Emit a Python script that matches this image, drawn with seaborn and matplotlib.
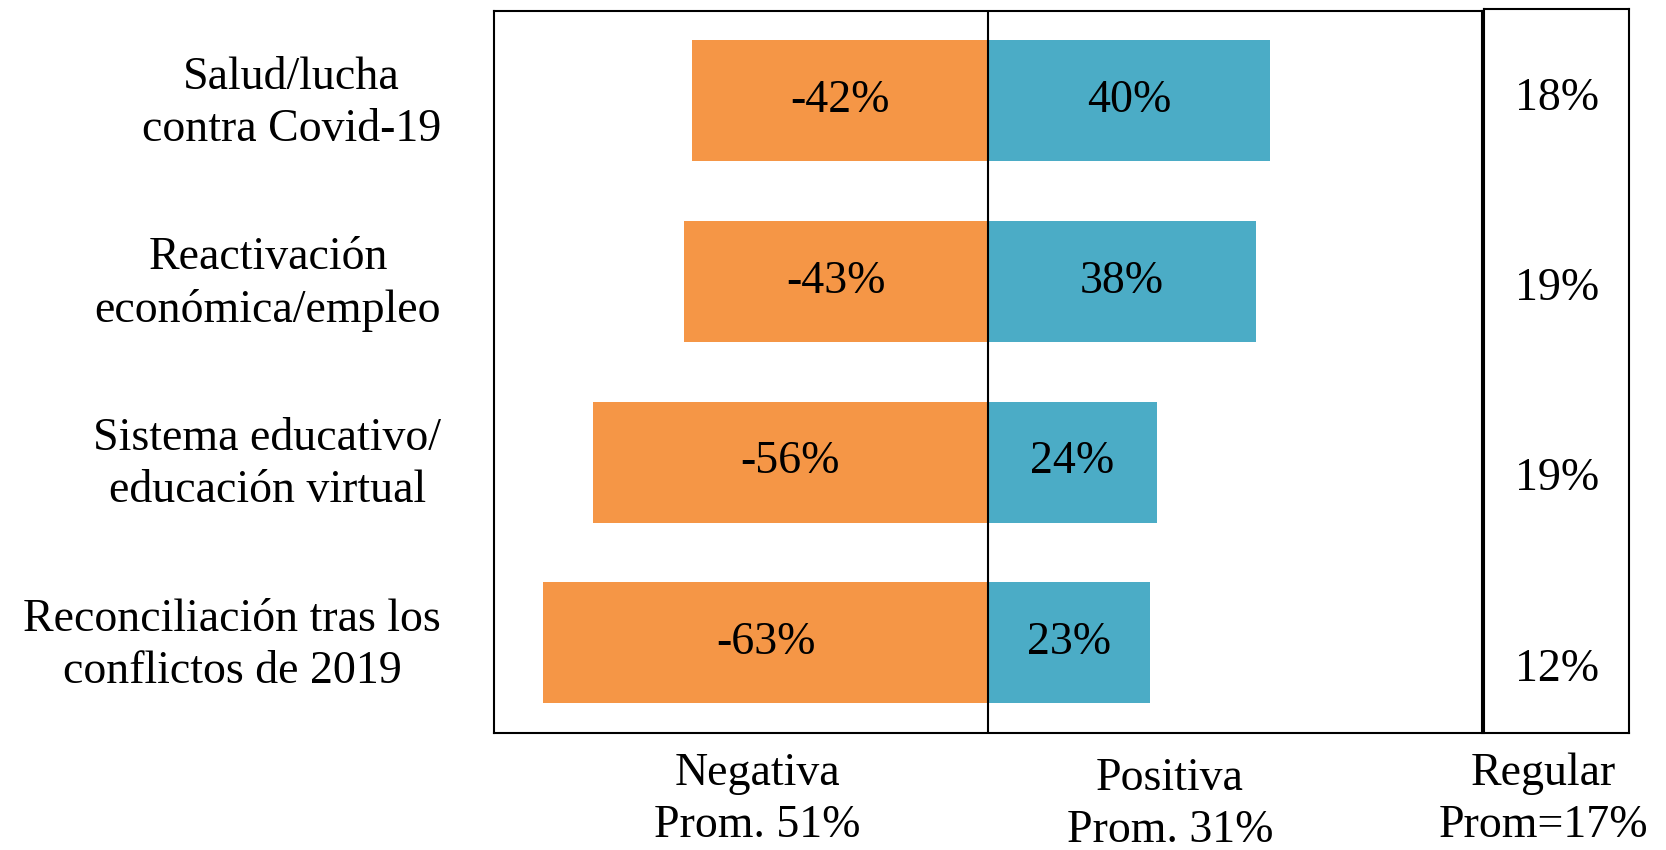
import numpy as np
import matplotlib
matplotlib.use("Agg")
import matplotlib.pyplot as plt
import matplotlib.transforms as mtransforms
import seaborn as sns
import pandas as pd

categories = ["Salud/lucha\ncontra Covid-19",
              "Reactivación\neconómica/empleo",
              "Sistema educativo/\neducación virtual",
              "Reconciliación tras los\nconflictos de 2019"]
negativa = [-42, -43, -56, -63]
positiva = [40, 38, 24, 23]
regular = [18, 19, 19, 12]

col_neg = "#F59646"
col_pos = "#4BACC6"

sns.set_theme(style="white")
plt.rcParams['font.family'] = ['Liberation Serif', 'DejaVu Serif']
plt.rcParams['text.color'] = 'black'
fs = 33

df = pd.DataFrame({"cat": categories, "neg": negativa, "pos": positiva, "reg": regular})

fig = plt.figure(figsize=(16.66, 8.5), dpi=100)
ax = fig.add_axes([0.2965, 0.1376, 0.593, 0.8499])
ax2 = fig.add_axes([0.891, 0.1376, 0.087, 0.8524])

sns.barplot(data=df, x="neg", y="cat", color=col_neg, width=0.67, linewidth=0,
            saturation=1, orient="h", ax=ax)
sns.barplot(data=df, x="pos", y="cat", color=col_pos, width=0.67, linewidth=0,
            saturation=1, orient="h", ax=ax)

ax.bar_label(ax.containers[0], labels=[f"{v}%" for v in negativa],
             label_type="center", fontsize=fs, color="black")
ax.bar_label(ax.containers[1], labels=[f"{v}%" for v in positiva],
             label_type="center", fontsize=fs, color="black")

ax.axvline(0, color="black", lw=1.5)
ax.set_xlim(-70, 70)
ax.set_ylim(3.5, -0.5)
ax.set_xlabel("")
ax.set_ylabel("")
ax.set_xticks([])
ax.tick_params(axis="y", length=0, pad=38, labelsize=fs, labelcolor="black")
shift = mtransforms.ScaledTranslation(0, 5 / 72, fig.dpi_scale_trans)
for lbl in ax.get_yticklabels():
    lbl.set_multialignment("center")
    lbl.set_linespacing(1.3)
    lbl.set_transform(lbl.get_transform() + shift)
for sp in ax.spines.values():
    sp.set_visible(True)
    sp.set_color("black")
    sp.set_linewidth(1.5)

# regular column (text rows spread a bit wider than the bars)
ax2.set_xlim(0, 1)
ax2.set_ylim(0, 1)
ypos = np.linspace(0.875, 0.088, len(regular))
for y, v in zip(ypos, regular):
    ax2.text(0.5, y, f"{v}%", ha="center", va="center", fontsize=fs)
ax2.set_xticks([])
ax2.set_yticks([])
for sp in ax2.spines.values():
    sp.set_visible(True)
    sp.set_color("black")
    sp.set_linewidth(1.5)

# bottom headings
fig.text(713 * 1.0625 / 1666, 1 - 800 / 850, "Negativa\nProm. 51%", ha="center", va="center",
         fontsize=fs, linespacing=1.3)
fig.text(1101 * 1.0625 / 1666, 1 - 805 / 850, "Positiva\nProm. 31%", ha="center", va="center",
         fontsize=fs, linespacing=1.3)
fig.text(1453 * 1.0625 / 1666, 1 - 800 / 850, "Regular\nProm=17%", ha="center", va="center",
         fontsize=fs, linespacing=1.3)

fig.savefig("out.png", dpi=100)
